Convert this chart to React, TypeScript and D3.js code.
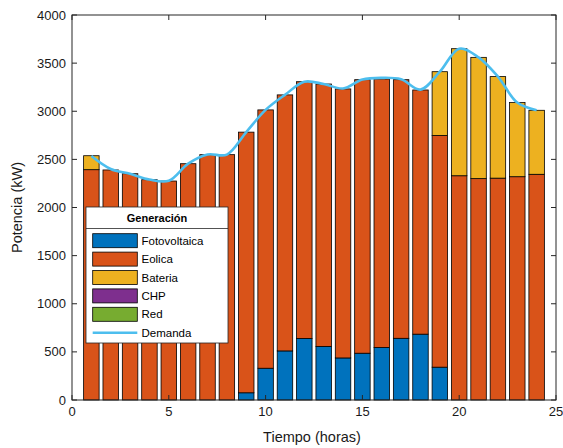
import React from "react";
import * as d3 from "d3";

const hours = d3.range(1, 25);
const fotovoltaica = [0, 0, 0, 0, 0, 0, 0, 0, 75, 330, 510, 640, 557, 437, 486, 546, 641, 684, 341, 0, 0, 0, 0, 0];
const eolica = [2393, 2390, 2351, 2289, 2275, 2455, 2549, 2549, 2708, 2684, 2660, 2667, 2726, 2795, 2842, 2789, 2687, 2537, 2407, 2330, 2300, 2305, 2320, 2345];
const bateria = [145, 0, 0, 0, 0, 0, 0, 0, 0, 0, 0, 0, 0, 0, 0, 0, 0, 0, 663, 1320, 1260, 1055, 770, 665];
const chp = [0, 0, 0, 0, 0, 0, 0, 0, 0, 0, 0, 0, 0, 0, 0, 0, 0, 0, 0, 0, 0, 0, 0, 0];
const red = [0, 0, 0, 0, 0, 0, 0, 0, 0, 0, 0, 0, 0, 0, 0, 0, 0, 0, 0, 0, 0, 0, 0, 0];
const demanda = [2535, 2400, 2350, 2290, 2278, 2455, 2550, 2550, 2783, 3014, 3170, 3307, 3283, 3237, 3330, 3347, 3332, 3225, 3411, 3650, 3560, 3360, 3090, 3010];

const seriesNames = ["Fotovoltaica", "Eolica", "Bateria", "CHP", "Red"];
const seriesColors = ["#0072BD", "#D95319", "#EDB120", "#7E2F8E", "#77AC30"];
const lineColor = "#4DBEEE";
const xTicks = [0, 5, 10, 15, 20, 25];
const yTicks = [0, 500, 1000, 1500, 2000, 2500, 3000, 3500, 4000];

export default function App() {
  const W = 563, H = 448;
  const L = 72, R = 556, T = 15, B = 400;
  const x = d3.scaleLinear().domain([0, 25]).range([L, R]);
  const y = d3.scaleLinear().domain([0, 4000]).range([B, T]);
  const bw = (x(1) - x(0)) * 0.8;

  const rows = hours.map((h, i) => ({
    h,
    Fotovoltaica: fotovoltaica[i],
    Eolica: eolica[i],
    Bateria: bateria[i],
    CHP: chp[i],
    Red: red[i],
  }));
  const stack = d3.stack<any>().keys(seriesNames)(rows);

  const line = d3
    .line<number>()
    .x((_, i) => x(hours[i]))
    .y((d) => y(d))
    .curve(d3.curveCatmullRom.alpha(0.5));

  const font = "Liberation Sans, Arial, sans-serif";
  const axisColor = "#262626";
  const tickLen = 5;

  const legX = 86, legY = 207, legW = 142, legH = 136;
  const rowY0 = 240.7, rowStep = 18.4;

  return (
    <svg width={W} height={H} style={{ position: "absolute", left: 0, top: 0 }} fontFamily={font}>
      <rect x={0} y={0} width={W} height={H} fill="#fff" />
      <rect x={L} y={T} width={R - L} height={B - T} fill="#fff" />
      {stack.map((s, si) =>
        s.map((d, i) =>
          d[1] - d[0] > 0 ? (
            <rect
              key={`${si}-${i}`}
              x={x(hours[i]) - bw / 2}
              y={y(d[1])}
              width={bw}
              height={y(d[0]) - y(d[1])}
              fill={seriesColors[si]}
              stroke="#000"
              strokeWidth={0.8}
            />
          ) : null
        )
      )}
      <path d={line(demanda) || ""} fill="none" stroke={lineColor} strokeWidth={2.6} strokeLinejoin="round" />

      <rect x={L} y={T} width={R - L} height={B - T} fill="none" stroke={axisColor} strokeWidth={1} />
      {xTicks.map((t) => (
        <g key={`xt${t}`}>
          <line x1={x(t)} x2={x(t)} y1={B} y2={B - tickLen} stroke={axisColor} />
          <line x1={x(t)} x2={x(t)} y1={T} y2={T + tickLen} stroke={axisColor} />
          <text x={x(t)} y={B + 16} textAnchor="middle" fontSize={13} fill="#1a1a1a">
            {t}
          </text>
        </g>
      ))}
      {yTicks.map((t) => (
        <g key={`yt${t}`}>
          <line x1={L} x2={L + tickLen} y1={y(t)} y2={y(t)} stroke={axisColor} />
          <line x1={R} x2={R - tickLen} y1={y(t)} y2={y(t)} stroke={axisColor} />
          <text x={L - 6} y={y(t) + 4.5} textAnchor="end" fontSize={13} fill="#1a1a1a">
            {t}
          </text>
        </g>
      ))}
      <text x={(L + R) / 2 - 2} y={442} textAnchor="middle" fontSize={14.5} fill="#1a1a1a">
        Tiempo (horas)
      </text>
      <text
        transform={`translate(22, ${(T + B) / 2}) rotate(-90)`}
        textAnchor="middle"
        fontSize={14.5}
        fill="#1a1a1a"
      >
        Potencia (kW)
      </text>

      <g>
        <rect x={legX} y={legY} width={legW} height={legH} fill="#fff" stroke={axisColor} strokeWidth={0.8} />
        <text x={legX + legW / 2} y={legY + 15} textAnchor="middle" fontSize={11} fontWeight="bold" fill="#000">
          Generación
        </text>
        <line x1={legX} x2={legX + legW} y1={legY + 21.5} y2={legY + 21.5} stroke={axisColor} strokeWidth={0.8} />
        {seriesNames.map((n, i) => (
          <g key={n}>
            <rect x={92.7} y={rowY0 + i * rowStep - 7} width={44.6} height={14} fill={seriesColors[i]} stroke="#000" strokeWidth={0.8} />
            <text x={141.5} y={rowY0 + i * rowStep + 4} fontSize={11.5} fill="#000">
              {n}
            </text>
          </g>
        ))}
        <line x1={92.7} x2={137.3} y1={rowY0 + 5 * rowStep} y2={rowY0 + 5 * rowStep} stroke={lineColor} strokeWidth={2.6} />
        <text x={141.5} y={rowY0 + 5 * rowStep + 4} fontSize={11.5} fill="#000">
          Demanda
        </text>
      </g>
    </svg>
  );
}
